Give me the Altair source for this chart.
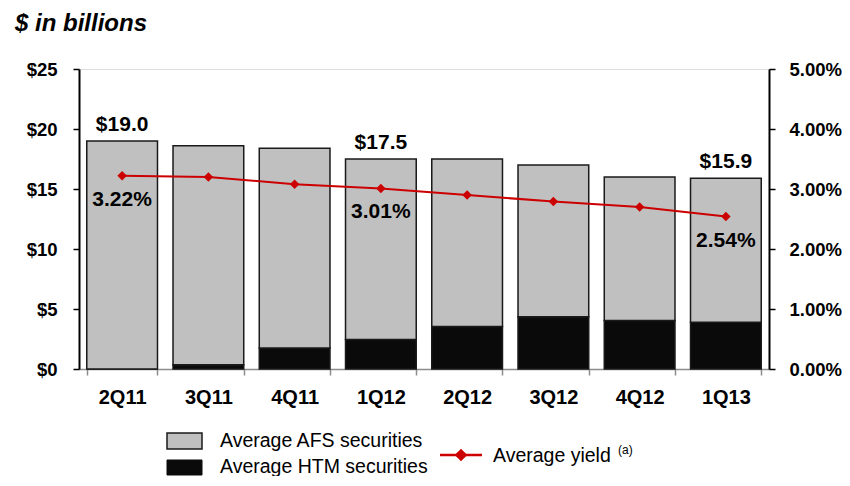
import altair as alt
import pandas as pd

quarters = ["2Q11", "3Q11", "4Q11", "1Q12", "2Q12", "3Q12", "4Q12", "1Q13"]
total_secs = [19.0, 18.6, 18.4, 17.5, 17.5, 17.0, 16.0, 15.9]
htm_secs = [0.0, 0.35, 1.75, 2.45, 3.55, 4.35, 4.05, 3.9]
avg_yield = [0.0322, 0.0320, 0.0308, 0.0301, 0.0290, 0.0279, 0.0270, 0.0254]
total_labels = ["$19.0", "", "", "$17.5", "", "", "", "$15.9"]
yield_labels = ["3.22%", "", "", "3.01%", "", "", "", "2.54%"]

FONT = "Liberation Sans"

rows = []
for q, t, h in zip(quarters, total_secs, htm_secs):
    rows.append({"q": q, "series": "Average HTM securities", "val": h, "ord": 0})
    rows.append({"q": q, "series": "Average AFS securities", "val": round(t - h, 3), "ord": 1})
bars_df = pd.DataFrame(rows)

line_df = pd.DataFrame({"q": quarters, "yield": avg_yield, "ylab": yield_labels,
                        "total": total_secs, "tlab": total_labels})

xenc = alt.X("q:N", sort=quarters, title=None,
             scale=alt.Scale(paddingInner=0.18, paddingOuter=0.09),
             axis=alt.Axis(labelAngle=0, labelFont=FONT, labelFontSize=20, labelFontWeight="bold",
                           labelColor="black", labelPadding=12, tickBand="extent",
                           domainColor="#8c8c8c", tickColor="#8c8c8c", tickSize=6,
                           domainWidth=1.5, tickWidth=1.5))

yleft = alt.Scale(domain=[0, 25], nice=False)
yright = alt.Scale(domain=[0, 0.05], nice=False)

bars = alt.Chart(bars_df).mark_bar(stroke="#1a1a1a", strokeWidth=1.5).encode(
    x=xenc,
    y=alt.Y("val:Q", stack="zero", scale=yleft, title=None,
            axis=alt.Axis(values=[0, 5, 10, 15, 20, 25], format="$.0f", orient="left",
                          labelFont=FONT, labelFontSize=18.5, labelFontWeight="bold",
                          labelColor="black", labelPadding=16, domainColor="black",
                          domainWidth=2, tickColor="black", tickSize=6, tickWidth=1.5,
                          grid=False)),
    fill=alt.Fill("series:N", legend=None,
                  scale=alt.Scale(domain=["Average AFS securities", "Average HTM securities"],
                                  range=["#c0c0c0", "#0a0a0a"])),
    order=alt.Order("ord:Q"),
)

tot_text = alt.Chart(line_df).mark_text(font=FONT, fontSize=21, fontWeight="bold",
                                        dy=-16, color="black").encode(
    x=alt.X("q:N", sort=quarters), y=alt.Y("total:Q", scale=yleft), text="tlab:N")

left = alt.layer(bars, tot_text)

line = alt.Chart(line_df).mark_line(color="#cc0000", strokeWidth=2).encode(
    x=alt.X("q:N", sort=quarters),
    y=alt.Y("yield:Q", scale=yright, title=None,
            axis=alt.Axis(values=[0, 0.01, 0.02, 0.03, 0.04, 0.05], format=".2%", orient="right",
                          labelFont=FONT, labelFontSize=18.5, labelFontWeight="bold",
                          labelColor="black", labelPadding=14, domainColor="black",
                          domainWidth=2, tickColor="black", tickSize=6, tickWidth=1.5,
                          grid=False)),
)
pts = alt.Chart(line_df).mark_point(shape="diamond", filled=True, color="#cc0000",
                                    size=90, opacity=1).encode(
    x=alt.X("q:N", sort=quarters), y=alt.Y("yield:Q", scale=yright))
ylab = alt.Chart(line_df).mark_text(font=FONT, fontSize=21, fontWeight="bold",
                                    dy=24, color="black").encode(
    x=alt.X("q:N", sort=quarters), y=alt.Y("yield:Q", scale=yright), text="ylab:N")

right = alt.layer(line, pts, ylab)

# title and legend (decorations placed in pixels)
one = pd.DataFrame({"k": [0]})
title = alt.Chart(one).mark_text(text="$ in billions", font=FONT, fontSize=24, fontWeight="bold",
                                 fontStyle="italic", align="left", baseline="alphabetic",
                                 color="black").encode(x=alt.value(-64), y=alt.value(-38))

leg_afs = alt.Chart(one).mark_rect(fill="#c0c0c0", stroke="#1a1a1a", strokeWidth=1.5).encode(
    x=alt.value(88), x2=alt.value(123), y=alt.value(364), y2=alt.value(380))
leg_htm = alt.Chart(one).mark_rect(fill="#0a0a0a", stroke="#0a0a0a").encode(
    x=alt.value(88), x2=alt.value(123), y=alt.value(391), y2=alt.value(406))
leg_t1 = alt.Chart(one).mark_text(text="Average AFS securities", font=FONT, fontSize=19.5,
                                  align="left", baseline="middle", color="black").encode(
    x=alt.value(141), y=alt.value(372))
leg_t2 = alt.Chart(one).mark_text(text="Average HTM securities", font=FONT, fontSize=19.5,
                                  align="left", baseline="middle", color="black").encode(
    x=alt.value(141), y=alt.value(398))
leg_line = alt.Chart(one).mark_rule(color="#cc0000", strokeWidth=2.5).encode(
    x=alt.value(361), x2=alt.value(403), y=alt.value(386))
leg_pt = alt.Chart(one).mark_point(shape="diamond", filled=True, color="#cc0000", size=160,
                                   opacity=1).encode(x=alt.value(382), y=alt.value(386))
leg_t3 = alt.Chart(one).mark_text(text="Average yield", font=FONT, fontSize=19.5,
                                  align="left", baseline="middle", color="black").encode(
    x=alt.value(414), y=alt.value(387))
leg_t4 = alt.Chart(one).mark_text(text="(a)", font=FONT, fontSize=12,
                                  align="left", baseline="middle", color="black").encode(
    x=alt.value(539), y=alt.value(381))

deco = alt.layer(title, leg_afs, leg_htm, leg_t1, leg_t2, leg_line, leg_pt, leg_t3, leg_t4)

chart = alt.layer(left, right, deco).resolve_scale(y="independent").properties(
    width=690, height=300,
    autosize=alt.AutoSizeParams(type="none"),
    padding={"left": 71, "top": 61, "right": 73, "bottom": 107},
).configure_view(stroke=None).configure(background="white")

chart.save("out.html", embed_options={"renderer": "svg", "actions": False})
